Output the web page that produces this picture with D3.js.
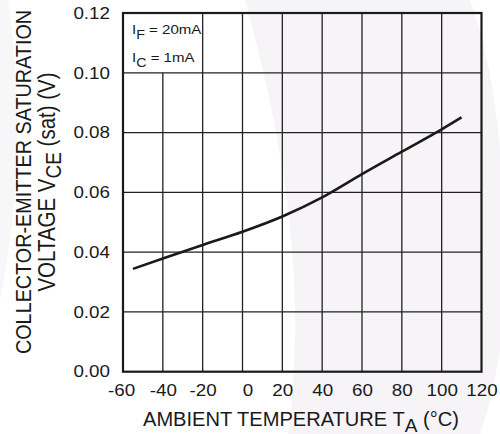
<!DOCTYPE html>
<html>
<head>
<meta charset="utf-8">
<script src="https://cdn.jsdelivr.net/npm/d3@7"></script>
<style>
  html, body { margin: 0; padding: 0; background: #fff; }
  svg { display: block; }
  text { font-family: "Liberation Sans", Arial, Helvetica, sans-serif; fill: #1a1a1a; }
</style>
</head>
<body>
<svg id="chart" width="500" height="434"></svg>
<script>
// ---- data ----
const temperature = [-55, -40, -20, 0, 20, 40, 60, 80, 100, 110];
const vceSat      = [0.0344, 0.0379, 0.0424, 0.0468, 0.0519, 0.0583, 0.0661, 0.0736, 0.0811, 0.0851];
const xTicks = [-60, -40, -20, 0, 20, 40, 60, 80, 100, 120];
const yTicks = [0.00, 0.02, 0.04, 0.06, 0.08, 0.10, 0.12];
const xDomain = [-60, 120];
const yDomain = [0, 0.12];

const svg = d3.select("#chart");
const SX = 1.14; // horizontal stretch of the original typography
const x = d3.scaleLinear().domain(xDomain).range([123, 481.5]);
const y = d3.scaleLinear().domain(yDomain).range([371.7, 13]);

// faint watermark background
svg.append("path")
  .attr("d", "M245,0 L470,0 Q492,60 500,150 L500,350 Q492,400 480,434 L288,434 C302,330 300,200 245,0 Z")
  .attr("fill", "#f6f4f7");
svg.append("path")
  .attr("d", "M0,0 L8,0 Q30,150 0,300 Z")
  .attr("fill", "#f7f6f8");

const grid = svg.append("g").attr("stroke", "#222").attr("stroke-width", 1.3);
grid.selectAll("line.h").data(yTicks.slice(1, -1)).join("line")
  .attr("class", "h")
  .attr("x1", x(xDomain[0])).attr("x2", x(xDomain[1]))
  .attr("y1", d => y(d)).attr("y2", d => y(d));
// the legend box at top-left hides the -40 line in the top cell
grid.selectAll("line.v").data(xTicks.slice(1, -1)).join("line")
  .attr("class", "v")
  .attr("x1", d => x(d)).attr("x2", d => x(d))
  .attr("y1", y(0))
  .attr("y2", d => d === -40 ? y(0.10) : y(yDomain[1]));

// frame
svg.append("rect")
  .attr("x", x(xDomain[0])).attr("y", y(yDomain[1]))
  .attr("width", x(xDomain[1]) - x(xDomain[0]))
  .attr("height", y(0) - y(yDomain[1]))
  .attr("fill", "none").attr("stroke", "#1a1a1a").attr("stroke-width", 2.2);

// curve
svg.append("path")
  .datum(temperature.map((t, i) => [t, vceSat[i]]))
  .attr("fill", "none").attr("stroke", "#1a1a1a").attr("stroke-width", 2.6)
  .attr("d", d3.line().x(d => x(d[0])).y(d => y(d[1])).curve(d3.curveMonotoneX));

// axes (labels only)
const xAxis = d3.axisBottom(x).tickValues(xTicks).tickSize(0).tickPadding(0).tickFormat(d => String(d));
const gx = svg.append("g").attr("transform", `translate(0,${y(0) + 19})`).call(xAxis);
gx.select(".domain").remove();
gx.selectAll(".tick text")
  .attr("font-size", 16.5).attr("dy", "0.32em").attr("fill", "#1a1a1a")
  .attr("transform", d => `translate(${d === 0 ? 5 : (d === -60 ? -2 : 0)},0) scale(${SX},1)`)
  .style("font-family", "'Liberation Sans', Arial, sans-serif");

const yAxis = d3.axisLeft(y).tickValues(yTicks).tickSize(0).tickPadding(0).tickFormat(d3.format(".2f"));
const gy = svg.append("g").attr("transform", `translate(110,0)`).call(yAxis);
gy.select(".domain").remove();
gy.selectAll(".tick text")
  .attr("font-size", 16.5).attr("fill", "#1a1a1a")
  .attr("transform", `scale(${SX},1)`)
  .style("font-family", "'Liberation Sans', Arial, sans-serif");

// x title
const xt = svg.append("g").attr("transform", `translate(143,425.5) scale(1.03,1)`)
  .append("text").attr("font-size", 19.5);
xt.append("tspan").text("AMBIENT TEMPERATURE T");
xt.append("tspan").attr("font-size", 18.5).attr("dy", 6).text("A");
xt.append("tspan").attr("dy", -6).text(" (°C)");

// y title (rotated; stretch is across the baseline)
const yt = svg.append("g").attr("transform", `translate(31,182) rotate(-90) scale(1,${SX})`);
yt.append("text").attr("text-anchor", "middle").attr("font-size", 19.8).text("COLLECTOR-EMITTER SATURATION");
const yt2 = yt.append("text").attr("y", 21).attr("text-anchor", "middle").attr("font-size", 20.5);
yt2.append("tspan").text("VOLTAGE V");
yt2.append("tspan").attr("dy", 5).attr("font-size", 19).text("CE");
yt2.append("tspan").attr("dy", -5).text(" (sat) (V)");

// legend annotation
const leg = svg.append("g").attr("transform", `translate(132,0) scale(${SX},1)`);
const l1 = leg.append("text").attr("x", 0).attr("y", 34.5).attr("font-size", 13.2);
l1.append("tspan").text("I");
l1.append("tspan").attr("dy", 5).attr("font-size", 12.5).text("F");
l1.append("tspan").attr("dy", -5).text(" = 20mA");
const l2 = leg.append("text").attr("x", 0).attr("y", 62.5).attr("font-size", 13.2);
l2.append("tspan").text("I");
l2.append("tspan").attr("dy", 5).attr("font-size", 12.5).text("C");
l2.append("tspan").attr("dy", -5).text(" = 1mA");
</script>
</body>
</html>
